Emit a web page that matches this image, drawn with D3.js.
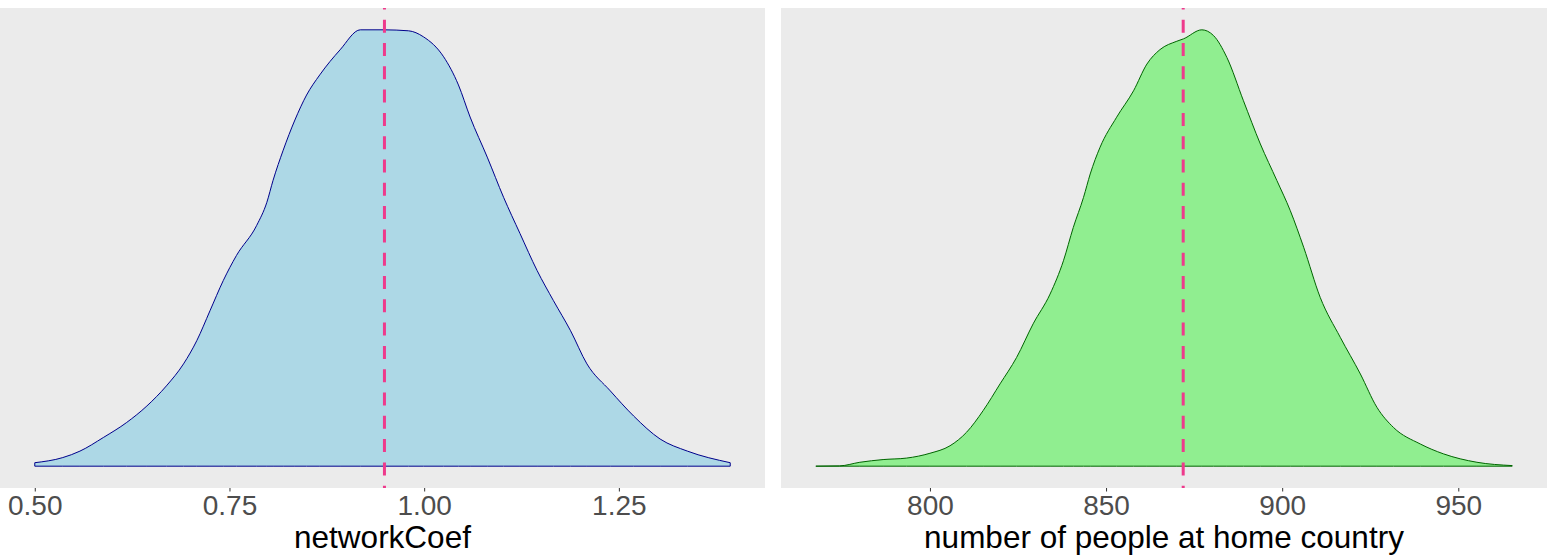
<!DOCTYPE html>
<html lang="en">
<head>
    <meta charset="UTF-8">
    <title>Density plots</title>
    <script src="https://d3js.org/d3.v7.min.js"></script>
    <style>
        body { margin: 0; background: #ffffff; }
        svg { display: block; }
    </style>
</head>
<body>
</body>

<script>
    var width = 1547;
    var height = 557;

    // networkCoef density (x value, density)
    var coefX = [0.500, 0.536, 0.558, 0.588, 0.618, 0.644, 0.669, 0.691, 0.708, 0.725,
        0.742, 0.759, 0.785, 0.798, 0.806, 0.819, 0.834, 0.849, 0.866, 0.892,
        0.918, 0.948, 0.980, 0.999, 1.025, 1.044, 1.059, 1.081, 1.102, 1.123,
        1.145, 1.166, 1.188, 1.209, 1.239, 1.269, 1.303, 1.338, 1.393];
    var coefDensity = [0.021, 0.052, 0.091, 0.173, 0.264, 0.364, 0.485, 0.618, 0.758, 0.939,
        1.121, 1.273, 1.455, 1.594, 1.727, 1.909, 2.091, 2.242, 2.364, 2.515,
        2.636, 2.636, 2.630, 2.594, 2.473, 2.303, 2.109, 1.867, 1.624, 1.406,
        1.182, 1.000, 0.818, 0.618, 0.455, 0.303, 0.164, 0.091, 0.021];
    var coefTicks = [0.50, 0.75, 1.00, 1.25];
    var coefMean = 0.949;

    // number of people at home country density
    var homeX = [767.6, 774.4, 780.1, 786.7, 793.4, 800.0, 805.7, 810.4, 815.1, 819.9,
        824.6, 829.3, 834.1, 837.9, 840.7, 843.6, 845.5, 848.3, 853.0, 857.8,
        861.6, 865.3, 870.1, 872.0, 877.2, 880.5, 884.3, 889.0, 893.8, 898.5,
        902.3, 906.1, 910.8, 916.5, 922.2, 926.9, 931.6, 939.2, 945.8, 955.3, 965.3];
    var homeDensity = [0.00000, 0.00001, 0.00013, 0.00022, 0.00027, 0.00043, 0.00068, 0.00113, 0.00185, 0.00274,
        0.00362, 0.00474, 0.00573, 0.00684, 0.00795, 0.00895, 0.00973, 0.01062, 0.01162, 0.01250,
        0.01339, 0.01387, 0.01415, 0.01423, 0.01453, 0.01434, 0.01361, 0.01217, 0.01073, 0.00951,
        0.00851, 0.00729, 0.00562, 0.00429, 0.00307, 0.00196, 0.00129, 0.00074, 0.00041, 0.00013, 0.00002];
    var homeTicks = [800, 850, 900, 950];
    var homeMean = 871.9;

    var panels = [
        {x: coefX, y: coefDensity, ticks: coefTicks, mean: coefMean, fmt: d3.format(".2f"),
            left: 0, right: 765, fill: "#ADD8E6", stroke: "#00008B", title: "networkCoef"},
        {x: homeX, y: homeDensity, ticks: homeTicks, mean: homeMean, fmt: d3.format("d"),
            left: 781, right: 1547, fill: "#90EE90", stroke: "#006400", title: "number of people at home country"}
    ];

    var panelTop = 8;
    var panelBottom = 488;

    var svg = d3.select("body")
        .append("svg")
        .attr("width", width)
        .attr("height", height);

    panels.forEach(function (p) {
        var pts = p.x.map(function (v, i) {
            return {x: v, y: p.y[i]};
        });

        // ggplot style 5% expansion
        var xExt = d3.extent(p.x);
        var xPad = (xExt[1] - xExt[0]) * 0.05;
        var x = d3.scaleLinear()
            .domain([xExt[0] - xPad, xExt[1] + xPad])
            .range([p.left, p.right]);

        var yMax = d3.max(p.y);
        var y = d3.scaleLinear()
            .domain([-yMax * 0.05, yMax * 1.05])
            .range([panelBottom, panelTop]);

        var g = svg.append("g");

        g.append("rect")
            .attr("x", p.left)
            .attr("y", panelTop)
            .attr("width", p.right - p.left)
            .attr("height", panelBottom - panelTop)
            .attr("fill", "#EBEBEB");

        var area = d3.area()
            .x(function (d) { return x(d.x); })
            .y0(y(0))
            .y1(function (d) { return y(d.y); })
            .curve(d3.curveMonotoneX);

        g.append("path")
            .datum(pts)
            .attr("d", area)
            .attr("fill", p.fill)
            .attr("stroke", p.stroke)
            .attr("stroke-width", 1);

        // mean line, dashed
        g.append("line")
            .attr("x1", x(p.mean))
            .attr("x2", x(p.mean))
            .attr("y1", panelTop)
            .attr("y2", panelBottom)
            .attr("stroke", "#EE3A8C")
            .attr("stroke-width", 3)
            .attr("stroke-dasharray", "13,10.3")
            .attr("stroke-dashoffset", 11.6);

        var axis = d3.axisBottom(x)
            .tickValues(p.ticks)
            .tickFormat(p.fmt)
            .tickSize(3.5)
            .tickPadding(4);

        var ax = g.append("g")
            .attr("transform", "translate(0," + panelBottom + ")")
            .call(axis);
        ax.select(".domain").remove();
        ax.selectAll(".tick line").attr("stroke", "#333333");
        ax.selectAll(".tick text")
            .attr("fill", "#4D4D4D")
            .style("font-family", "Arial, 'Liberation Sans', sans-serif")
            .style("font-size", "28px");

        g.append("text")
            .attr("x", (p.left + p.right) / 2)
            .attr("y", 548)
            .attr("text-anchor", "middle")
            .attr("fill", "#000000")
            .style("font-family", "Arial, 'Liberation Sans', sans-serif")
            .style("font-size", "31.5px")
            .text(p.title);
    });
</script>
</html>
